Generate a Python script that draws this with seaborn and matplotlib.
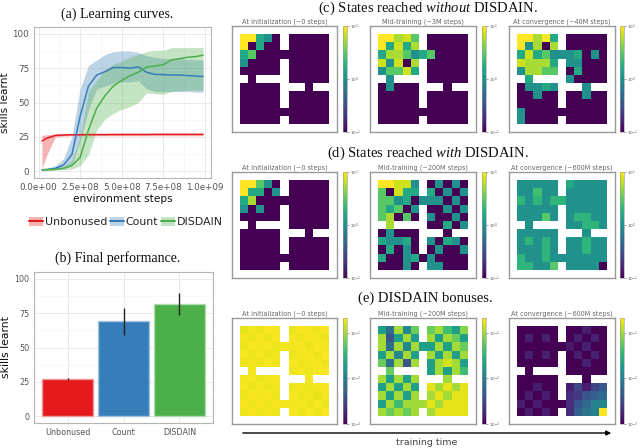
import numpy as np
import pandas as pd
import matplotlib
matplotlib.use("Agg")
import matplotlib.pyplot as plt
import seaborn as sns
from matplotlib.colors import LogNorm
from matplotlib.patches import Patch, FancyArrowPatch
from matplotlib.lines import Line2D
from matplotlib.ticker import FuncFormatter, MultipleLocator

# ---------------- data ----------------
METHODS = ["Unbonused", "Count", "DISDAIN"]
COLORS = ["#e41a1c", "#377eb8", "#4daf4a"]

STEPS = [0.02e9, 0.05e9, 0.10e9, 0.15e9, 0.20e9, 0.25e9, 0.30e9, 0.35e9, 0.40e9, 0.45e9,
         0.50e9, 0.55e9, 0.60e9, 0.65e9, 0.70e9, 0.75e9, 0.80e9, 0.85e9, 0.90e9, 0.95e9, 0.99e9]

UNB_MEAN = [22, 24, 26, 26.3, 26.5, 26.5, 26.6, 26.6, 26.6, 26.7, 26.7, 26.7, 26.7, 26.7, 26.8, 26.8, 26.8, 26.8, 26.8, 26.8, 26.8]
UNB_LO = [2, 12, 24.8, 25.5, 25.8, 25.8, 25.8, 25.8, 25.8, 25.8, 25.8, 25.8, 25.8, 25.8, 25.8, 25.8, 25.8, 25.8, 25.8, 25.8, 25.8]
UNB_HI = [26, 26.5, 27, 27.5, 27.5, 27.5, 27.5, 27.5, 27.5, 27.5, 27.5, 27.5, 27.5, 27.5, 27.5, 27.5, 27.5, 27.5, 27.5, 27.5, 27.5]

CNT_MEAN = [1, 1.2, 2, 4.5, 12, 40, 62, 70, 72.5, 75.5, 75.5, 75, 76, 72, 70.5, 70.3, 70, 70, 69.6, 69.2, 69]
CNT_LO = [0.5, 0.5, 1, 2, 4, 22, 45, 60, 62, 64, 65, 65, 66, 60, 58, 58, 58, 58, 58, 57.5, 57.5]
CNT_HI = [1.5, 2, 4, 9, 25, 60, 77, 81, 85, 87, 87.5, 87.5, 86.5, 84, 83, 82, 82, 82, 81.5, 81, 81]

DIS_MEAN = [1, 1.1, 1.3, 2, 4, 10, 30, 46, 55, 62, 66, 69.5, 72, 76, 76.5, 77.5, 81, 82, 83, 83.5, 84.5]
DIS_LO = [0.5, 0.5, 0.8, 1, 1.5, 4, 12, 30, 38, 42, 45, 47, 50, 57, 56.5, 56, 58, 58.5, 59, 59, 59]
DIS_HI = [1.5, 2, 2.5, 3.5, 8, 25, 58, 66, 74, 78, 80, 83, 85, 87, 88, 88, 90, 90, 90, 90, 90]

FINAL_MEAN = [27, 69, 82]
FINAL_LO = [26.5, 59, 74]
FINAL_HI = [27.5, 79, 90]

# Four-rooms layout ('#' = wall)
WALLS = [
    ".....#.....",
    ".....#.....",
    "...........",
    ".....#.....",
    ".....#.....",
    "#.####.....",
    ".....###.##",
    ".....#.....",
    ".....#.....",
    "...........",
    ".....#.....",
]

STATES_NO_INIT = [
    [10, 10, 1.6, 1, .1, 0, .1, .1, .1, .1, .1],
    [10, .1, 1.6, .1, .1, 0, .1, .1, .1, .1, .1],
    [1.6, 3, .1, .1, .1, .1, .1, .1, .1, .1, .1],
    [1, .1, .1, .1, .1, 0, .1, .1, .1, .1, .1],
    [.1, .1, .1, .1, .1, 0, .1, .1, .1, .1, .1],
    [0, .1, 0, 0, 0, 0, .1, .1, .1, .1, .1],
    [.1, .1, .1, .1, .1, 0, 0, 0, .1, 0, 0],
    [.1, .1, .1, .1, .1, 0, .1, .1, .1, .1, .1],
    [.1, .1, .1, .1, .1, 0, .1, .1, .1, .1, .1],
    [.1, .1, .1, .1, .1, .1, .1, .1, .1, .1, .1],
    [.1, .1, .1, .1, .1, 0, .1, .1, .1, .1, .1],
]
STATES_NO_MID = [
    [10, 10, 5.5, 7, 3, 0, .1, .1, .1, .1, .1],
    [10, 1.6, 7, 1.6, 5.5, 0, .1, .1, .1, .1, .1],
    [1.6, 5.5, 5.5, 3, 1, 1.6, 3, .1, .1, .1, .1],
    [7, 1, 7, .1, 5.5, 0, .1, .1, .1, .1, .1],
    [1, 3, 3, 7, 1.6, 0, .1, .1, .1, .1, .1],
    [0, 1, 0, 0, 0, 0, .1, .1, .1, .1, .1],
    [.1, 1, .1, .1, .1, 0, 0, 0, .1, 0, 0],
    [.1, .1, .1, .1, .1, 0, .1, .1, .1, .1, .1],
    [.1, .1, .1, .1, .1, 0, .1, .1, .1, .1, .1],
    [.1, .1, .1, .1, .1, .1, .1, .1, .1, .1, .1],
    [.1, .1, .1, .1, .1, 0, .1, .1, .1, .1, .1],
]
STATES_NO_CONV = [
    [10, 10, 5.5, 10, 1.6, 0, .1, .1, .1, .1, .1],
    [10, 1, 5.5, .1, 5.5, 0, .1, .1, .1, .1, .1],
    [1.6, 7, 1.6, 3, 1, 1, 1, 1.6, .1, 1, .1],
    [7, 5.5, 5.5, 5.5, 1.6, 0, 1, 1, .1, .1, .1],
    [1, 5.5, 5.5, 3, 3, 0, .1, 1.6, .1, .1, .1],
    [0, 1.6, 0, 0, 0, 0, 1, .1, .1, .1, .1],
    [.1, 1, 1, 1.6, 1, 0, 0, 0, 1, 0, 0],
    [.1, .1, 1, .1, .1, 0, .1, .1, 1, .1, .1],
    [.1, .1, .1, .1, .1, 0, .1, .1, .1, .1, .1],
    [1, .1, .1, .1, .1, .1, .1, .1, .1, .1, .1],
    [1, .1, .1, .1, .1, 0, .1, .1, .1, .1, .1],
]
STATES_DIS_INIT = [
    [10, 10, 3, 1, .1, 0, .1, .1, .1, .1, .1],
    [10, 1.6, 1.6, .1, 1, 0, .1, .1, .1, .1, .1],
    [1.6, 5.5, .1, .1, .1, .1, .1, .1, .1, .1, .1],
    [1, .1, 1, .1, .1, 0, .1, .1, .1, .1, .1],
    [.1, .1, .1, .1, .1, 0, .1, .1, .1, .1, .1],
    [0, .1, 0, 0, 0, 0, .1, .1, .1, .1, .1],
    [.1, .1, .1, .1, .1, 0, 0, 0, .1, 0, 0],
    [.1, .1, .1, .1, .1, 0, .1, .1, .1, .1, .1],
    [.1, .1, .1, .1, .1, 0, .1, .1, .1, .1, .1],
    [.1, .1, .1, .1, .1, .1, .1, .1, .1, .1, .1],
    [.1, .1, .1, .1, .1, 0, .1, .1, .1, .1, .1],
]
STATES_DIS_MID = [
    [10, 10, 7, 7, 1, 0, .1, 1, .1, 1, .1],
    [3, .1, 7, 1.6, 1.6, 0, 1.6, .1, 1, .1, 1],
    [3, 3, 1, 1.6, .1, 1, 1, 1, .1, 1, .1],
    [3, 1.6, 3, .1, 1, 0, .1, .1, 1, .1, 1],
    [3, 5.5, .1, 3, .1, 0, 1, .1, .1, 1, .1],
    [0, 5.5, 0, 0, 0, 0, .1, .1, 1.6, .1, 1],
    [.1, 1, .1, .1, .1, 0, 0, 0, .1, 0, 0],
    [1.6, 1, 1, 1.6, .1, 0, 1, .1, 1.6, 1, .1],
    [.1, 1.6, .1, 1, .1, 0, .1, 1, .1, .1, 1],
    [1.6, .1, .1, 1, 1.6, .1, 1, .1, .1, .1, .1],
    [.1, .1, .1, 1, .1, 0, 1, 1, .1, .1, .1],
]
STATES_DIS_CONV = [
    [1, 1, 1, 1, 1, 0, 1.6, 1, 1, 1, 1],
    [1, 1, 2.5, 1, 1, 0, 1, 1, 1, 1, 1],
    [2, 1, 2, 1, 2, 2, 1, 1, 1, 1, 1],
    [1, 1, 1, 1, 1, 0, 1, 1, 1, 1, 1],
    [1, 1, 1, 3, 1, 0, 1, 2, 2, 1, 1],
    [0, 1, 0, 0, 0, 0, 1, 1, 2, 2, 1],
    [1, 1, 1, 1, 1, 0, 0, 0, 1, 0, 0],
    [1, 2, 1, 2, 1, 0, 1, 1, 2, 1, 1],
    [1, 1, 1, 2, 1, 0, 1, 1, 2, 1, 1],
    [2, 1, 1, 2, 1, 1, 1, 1, 1, 1, 1],
    [2, 2, 1, 1, 3, 0, 1, 1, 1, 1, .1],
]
BONUS_INIT = [
    [.17, .19, .18, .2, .19, 0, .18, .2, .19, .18, .2],
    [.19, .18, .2, .18, .2, 0, .2, .18, .2, .19, .18],
    [.18, .2, .19, .2, .18, .19, .19, .2, .18, .2, .19],
    [.2, .18, .2, .18, .19, 0, .18, .19, .2, .18, .2],
    [.18, .19, .18, .2, .18, 0, .2, .18, .19, .2, .18],
    [0, .19, 0, 0, 0, 0, .18, .2, .18, .19, .2],
    [.19, .2, .18, .19, .2, 0, 0, 0, .19, 0, 0],
    [.2, .18, .2, .18, .19, 0, .18, .19, .18, .19, .2],
    [.18, .2, .19, .2, .18, 0, .2, .18, .19, .17, .19],
    [.2, .18, .2, .18, .2, .19, .19, .2, .18, .2, .18],
    [.18, .2, .18, .19, .18, 0, .2, .18, .2, .18, .2],
]
BONUS_MID = [
    [.02, .007, .1, .012, .06, 0, .06, .1, .04, .02, .08],
    [.1, .004, .02, .1, .02, 0, .1, .02, .1, .06, .02],
    [.1, .007, .1, .012, .1, .02, .02, .1, .02, .1, .06],
    [.02, .1, .012, .1, .02, 0, .1, .02, .1, .02, .1],
    [.06, .007, .1, .004, .1, 0, .02, .1, .15, .1, .02],
    [0, .06, 0, 0, 0, 0, .02, .1, .02, .1, .04],
    [.1, .02, .1, .02, .1, 0, 0, 0, .1, 0, 0],
    [.02, .1, .02, .1, .02, 0, .17, .1, .17, .1, .17],
    [.1, .02, .1, .02, .1, 0, .1, .17, .1, .17, .17],
    [.02, .1, .04, .1, .1, .1, .17, .1, .17, .17, .17],
    [.1, .06, .1, .06, .1, 0, .1, .17, .17, .17, .17],
]
BONUS_CONV = [
    [.001, .001, .001, .001, .001, 0, .001, .001, .0015, .001, .001],
    [.001, .0016, .001, .0016, .001, 0, .001, .0016, .001, .0016, .001],
    [.001, .001, .001, .001, .001, .001, .0014, .001, .0016, .001, .001],
    [.001, .0016, .001, .0016, .001, 0, .001, .0016, .001, .0016, .001],
    [.001, .001, .001, .001, .001, 0, .001, .001, .0016, .001, .001],
    [0, .001, 0, 0, 0, 0, .001, .001, .001, .001, .001],
    [.001, .001, .001, .001, .001, 0, 0, 0, .001, 0, 0],
    [.001, .001, .0015, .001, .001, 0, .0015, .003, .0015, .003, .004],
    [.001, .0015, .001, .0015, .001, 0, .002, .0025, .004, .005, .006],
    [.0015, .001, .0015, .001, .001, .001, .002, .004, .006, .01, .012],
    [.001, .0015, .001, .0015, .001, 0, .002, .005, .008, .01, .2],
]

SUBTITLES = [
    ["At initialization (~0 steps)", "Mid-training (~3M steps)", "At convergence (~40M steps)"],
    ["At initialization (~0 steps)", "Mid-training (~200M steps)", "At convergence (~600M steps)"],
    ["At initialization (~0 steps)", "Mid-training (~200M steps)", "At convergence (~600M steps)"],
]

# ---------------- style ----------------
sns.set_theme(style="white")
plt.rcParams["font.family"] = ["DejaVu Sans"]
plt.rcParams["mathtext.fontset"] = "custom"
plt.rcParams["mathtext.rm"] = "Liberation Serif"
plt.rcParams["mathtext.it"] = "Liberation Serif:italic"

W, H = 640, 448
fig = plt.figure(figsize=(6.4, 4.48), dpi=100)


def ax_px(l, t, r, b):
    return fig.add_axes([l / W, 1 - b / H, (r - l) / W, (b - t) / H])


def gg_style(ax, tick_size):
    ax.set_facecolor("white")
    ax.set_axisbelow(True)
    ax.grid(True, which="major", color="#e6e6e6", lw=0.6)
    ax.grid(True, which="minor", color="#f3f3f3", lw=0.4)
    for s in ax.spines.values():
        s.set_visible(True)
        s.set_color("#b5b5b5")
        s.set_linewidth(0.8)
    ax.tick_params(which="major", length=2, width=0.5, color="#444444",
                   labelcolor="#555555", labelsize=tick_size, pad=1.5)
    ax.tick_params(which="minor", length=0)


def title(x, y, s, size):
    fig.text(x / W, 1 - y / H, s, ha="center", va="center",
             family="Liberation Serif", fontsize=size, color="#111111")


# ---------------- (a) learning curves ----------------
ax_a = ax_px(34, 27, 211, 178)
means = [UNB_MEAN, CNT_MEAN, DIS_MEAN]
los = [UNB_LO, CNT_LO, DIS_LO]
his = [UNB_HI, CNT_HI, DIS_HI]
df = pd.concat([pd.DataFrame({"step": STEPS, "skills": m, "method": name})
                for m, name in zip(means, METHODS)], ignore_index=True)
for lo, hi, c in zip(los, his, COLORS):
    ax_a.fill_between(STEPS, lo, hi, color=c, alpha=0.33, lw=0)
sns.lineplot(data=df, x="step", y="skills", hue="method", palette=COLORS,
             hue_order=METHODS, ax=ax_a, legend=False, lw=1.1)
ax_a.set_xlim(-0.028e9, 1.038e9)
ax_a.set_ylim(-5, 105)
ax_a.xaxis.set_major_locator(MultipleLocator(0.25e9))
ax_a.xaxis.set_minor_locator(MultipleLocator(0.125e9))
ax_a.yaxis.set_major_locator(MultipleLocator(25))
ax_a.yaxis.set_minor_locator(MultipleLocator(12.5))
ax_a.xaxis.set_major_formatter(FuncFormatter(lambda v, p: f"{v:.1e}"))
gg_style(ax_a, 6.3)
ax_a.set_xlabel("environment steps", fontsize=7.6, labelpad=1.5, color="#111111")
ax_a.set_ylabel("skills learnt", fontsize=7.6, labelpad=2, color="#111111")
title(117, 14, "(a) Learning curves.", 10)

handles = [(Patch(fc=c, alpha=0.33, lw=0), Line2D([], [], color=c, lw=1.5)) for c in COLORS]
fig.legend(handles, METHODS, loc="center", bbox_to_anchor=(126 / W, 1 - 222 / H),
           ncol=3, frameon=False, fontsize=7.9, handlelength=1.3, handleheight=1.0,
           handletextpad=0.15, columnspacing=0.25, borderpad=0)

# ---------------- (b) final performance ----------------
ax_b = ax_px(34, 272, 213, 423)
dfb = pd.DataFrame({"method": METHODS, "skills": FINAL_MEAN})
sns.barplot(data=dfb, x="method", y="skills", hue="method", palette=COLORS,
            order=METHODS, hue_order=METHODS, width=0.9, ax=ax_b, legend=False,
            saturation=1, errorbar=None)
for p, c in zip(ax_b.patches, COLORS):
    rgb = np.array(matplotlib.colors.to_rgb(c))
    p.set_edgecolor(tuple(rgb * 0.45 + 0.55))
    p.set_linewidth(1.0)
err = [np.array(FINAL_MEAN) - np.array(FINAL_LO), np.array(FINAL_HI) - np.array(FINAL_MEAN)]
ax_b.errorbar(range(3), FINAL_MEAN, yerr=err, fmt="none", ecolor="#222222", elinewidth=1.0, capsize=0)
ax_b.set_xlim(-0.6, 2.6)
ax_b.set_ylim(-5, 105)
ax_b.yaxis.set_major_locator(MultipleLocator(25))
ax_b.yaxis.set_minor_locator(MultipleLocator(12.5))
gg_style(ax_b, 5.8)
ax_b.set_xlabel("")
ax_b.set_ylabel("skills learnt", fontsize=7.8, labelpad=2, color="#111111")
title(118, 258, "(b) Final performance.", 10)

# ---------------- (c)-(e) heatmaps ----------------
maps = [[STATES_NO_INIT, STATES_NO_MID, STATES_NO_CONV],
        [STATES_DIS_INIT, STATES_DIS_MID, STATES_DIS_CONV],
        [BONUS_INIT, BONUS_MID, BONUS_CONV]]
norms = [(0.1, 10), (0.1, 10), (1e-3, 0.21)]
box_x = [(232, 337), (370, 476), (509, 615)]
cbar_x = [(343, 347), (482, 486), (620, 624)]
box_y = [(26, 132), (172, 278), (318, 424)]

for r in range(3):
    for k in range(3):
        vals = maps[r][k]
        grid = np.full((13, 13), np.nan)
        for i, row in enumerate(WALLS):
            for j, ch in enumerate(row):
                if ch == ".":
                    grid[i + 1, j + 1] = vals[i][j]
        mask = np.isnan(grid)
        ax = ax_px(box_x[k][0], box_y[r][0], box_x[k][1], box_y[r][1])
        cax = ax_px(cbar_x[k][0], box_y[r][0], cbar_x[k][1], box_y[r][1])
        sns.heatmap(grid, mask=mask, cmap="viridis",
                    norm=LogNorm(vmin=norms[r][0], vmax=norms[r][1]),
                    ax=ax, cbar_ax=cax, xticklabels=False, yticklabels=False)
        ax.set_facecolor("white")
        for s in ax.spines.values():
            s.set_visible(True)
            s.set_color("#9a9a9a")
            s.set_linewidth(1.0)
        cb = ax.collections[0].colorbar
        cb.outline.set_visible(True)
        cb.outline.set_linewidth(0.4)
        cb.outline.set_edgecolor("#999999")
        cax.tick_params(which="major", labelsize=3.0, length=1.5, width=0.4, pad=1,
                        colors="#555555")
        cax.tick_params(which="minor", length=0.8, width=0.3, colors="#777777")
        ax.set_title(SUBTITLES[r][k], fontsize=4.7, color="#666666", pad=2)

title(428, 8, r"(c) States reached $\it{without}$ DISDAIN.", 10.5)
title(428, 153, r"(d) States reached $\it{with}$ DISDAIN.", 10.5)
title(425, 298, "(e) DISDAIN bonuses.", 10.5)

arrow = FancyArrowPatch((240 / W, 1 - 433 / H), (614 / W, 1 - 433 / H),
                        transform=fig.transFigure, arrowstyle="-|>",
                        mutation_scale=7, lw=1.0, color="black")
fig.patches.append(arrow)
fig.text(427 / W, 1 - 442 / H, "training time", ha="center", va="center",
         fontsize=6.8, color="#444444")

fig.savefig("out.png", dpi=100)
